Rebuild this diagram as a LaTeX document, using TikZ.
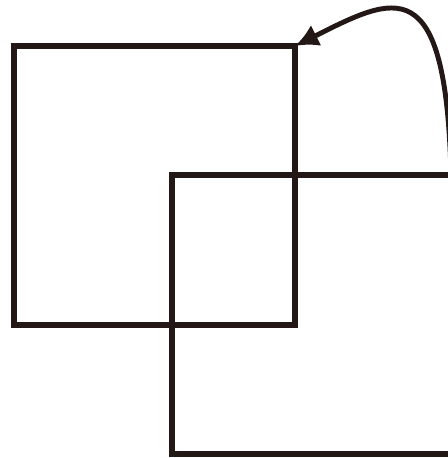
\documentclass[tikz,border=0pt]{standalone}
\usepackage{tikz}
\usetikzlibrary{arrows.meta,positioning}
\definecolor{ink}{HTML}{231815}

\begin{document}
\begin{tikzpicture}[x=0.03cm, y=-0.03cm,
  square/.style={draw=ink, line width=4.8pt, inner sep=0pt, outer sep=0pt, anchor=north west}]
  \useasboundingbox (0,0) rectangle (447,458);
  % the two overlapping squares
  \node[square, minimum width=8.43cm, minimum height=8.37cm] (upper) at (14,46) {};
  \node[square, minimum width=8.37cm, minimum height=8.37cm] (lower) at (172,175) {};
  % curved arrow back to the first square
  \draw[ink, line width=4.2pt, -{Latex[length=20pt,width=20pt]}]
        (lower.north east) .. controls (446,-32) and (395,-4) .. (upper.north east);
\end{tikzpicture}
\end{document}
